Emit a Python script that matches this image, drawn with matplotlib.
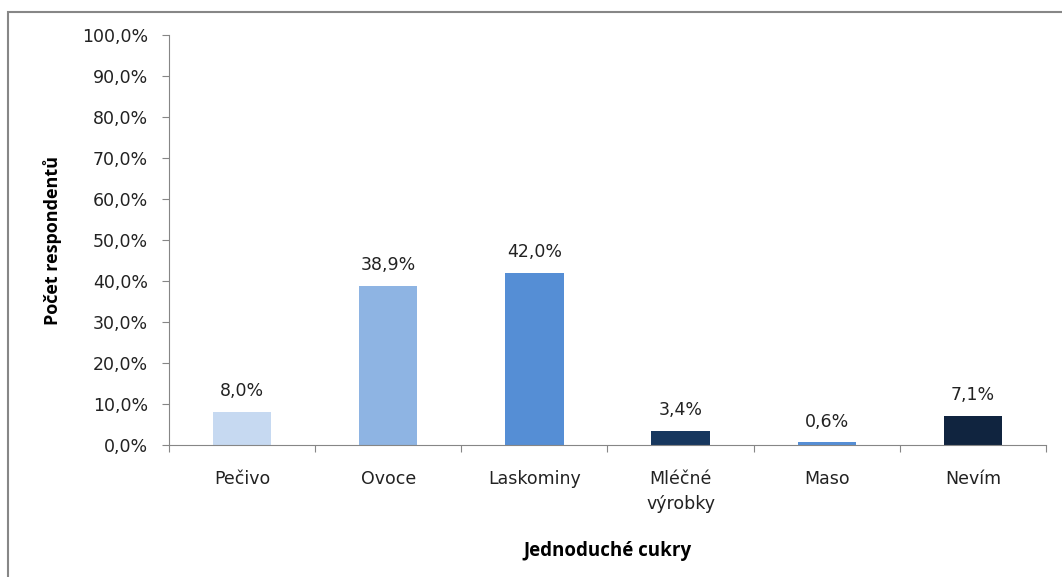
import matplotlib.pyplot as plt
from matplotlib.patches import Rectangle
from matplotlib.ticker import FuncFormatter, MultipleLocator

plt.rcParams['font.family'] = ['DejaVu Sans']

categories = ["Pečivo", "Ovoce", "Laskominy", "Mléčné\nvýrobky", "Maso", "Nevím"]
values = [8.0, 38.9, 42.0, 3.4, 0.6, 7.1]
colors = ["#C6D9F1", "#8EB4E3", "#558ED5", "#17375E", "#558ED5", "#10243F"]

fig = plt.figure(figsize=(10.62, 5.77), dpi=100)
ax = fig.add_axes([0.159, 0.229, 0.826, 0.710])

# chart frame
fig.patches.append(Rectangle((8 / 1062, -0.1), 1.2, 1 - 12 / 577 + 0.1,
                             transform=fig.transFigure, fill=False,
                             edgecolor="#878787", linewidth=1.5))

x = range(len(categories))
ax.bar(x, values, width=0.4, color=colors, edgecolor="none", zorder=2)

for xi, v in zip(x, values):
    ax.annotate(("%.1f%%" % v).replace(".", ","), (xi, v), xytext=(0, 8.5),
                textcoords="offset points", ha="center", va="bottom",
                fontsize=12.5, color="#222222")

ax.set_xlim(-0.5, len(categories) - 0.5)
ax.set_ylim(0, 100)
ax.yaxis.set_major_locator(MultipleLocator(10))
ax.yaxis.set_major_formatter(FuncFormatter(lambda v, p: ("%.1f%%" % v).replace(".", ",")))
ax.set_xticks([i - 0.5 for i in range(len(categories) + 1)], minor=False)
ax.set_xticklabels([])
ax.set_xticks(list(x), minor=True)
ax.set_xticklabels(categories, minor=True, linespacing=1.5)
ax.tick_params(axis="x", which="minor", length=0, pad=18, labelsize=12.5, labelcolor="#222222")
ax.tick_params(axis="x", which="major", length=5, color="#868686", direction="out")
ax.tick_params(axis="y", length=5, color="#868686", labelsize=12.5, labelcolor="#222222", pad=10)

for s in ["top", "right"]:
    ax.spines[s].set_visible(False)
for s in ["left", "bottom"]:
    ax.spines[s].set_color("#868686")

ax.set_ylabel("Počet respondentů", fontsize=13, fontweight="bold", labelpad=14,
              family=["Open Sans", "DejaVu Sans"])
ax.set_xlabel("Jednoduché cukry", fontsize=13.5, fontweight="bold", labelpad=20,
              family=["Open Sans", "DejaVu Sans"])

fig.savefig("out.png", dpi=100)
